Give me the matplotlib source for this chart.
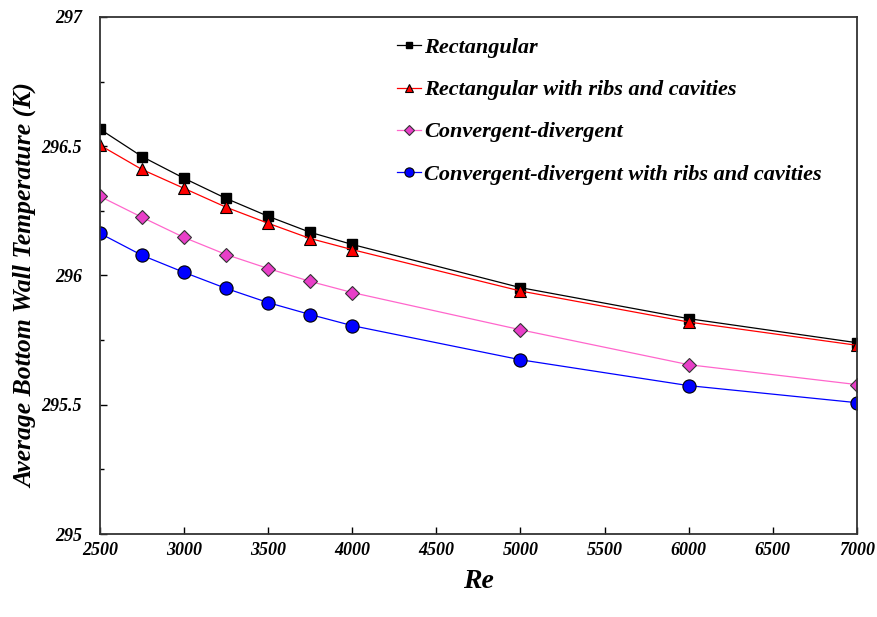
import matplotlib.pyplot as plt
from matplotlib.ticker import MultipleLocator

# Data
re_vals = [2500, 2750, 3000, 3250, 3500, 3750, 4000, 5000, 6000, 7000]
rect = [296.566, 296.46, 296.376, 296.298, 296.229, 296.167, 296.12, 295.953, 295.833, 295.74]
rect_ribs = [296.504, 296.41, 296.337, 296.264, 296.202, 296.143, 296.10, 295.94, 295.82, 295.73]
conv_div = [296.306, 296.225, 296.147, 296.081, 296.027, 295.977, 295.934, 295.79, 295.655, 295.578]
conv_div_ribs = [296.163, 296.078, 296.012, 295.95, 295.895, 295.849, 295.806, 295.674, 295.574, 295.508]

labels = ["Rectangular", "Rectangular with ribs and cavities",
          "Convergent-divergent", "Convergent-divergent with ribs and cavities"]

plt.rcParams['font.family'] = 'Liberation Serif'
plt.rcParams['font.weight'] = 'bold'
plt.rcParams['font.style'] = 'italic'

fig = plt.figure(figsize=(8.77, 6.17), dpi=100)
ax = fig.add_axes([0.114, 0.1345, 0.863, 0.838])

ax.plot(re_vals, rect, color='black', lw=0.9, marker='s', ms=6.5,
        mfc='black', mec='black', label=labels[0])
ax.plot(re_vals, rect_ribs, color='red', lw=0.9, marker='^', ms=8,
        mfc='red', mec='black', mew=0.8, label=labels[1])
ax.plot(re_vals, conv_div, color='#ff66cc', lw=0.9, marker='D', ms=7,
        mfc='#e83fc8', mec='#333333', mew=0.8, label=labels[2])
ax.plot(re_vals, conv_div_ribs, color='blue', lw=0.9, marker='o', ms=9.5,
        mfc='blue', mec='black', mew=0.8, label=labels[3])

ax.set_xlim(2500, 7000)
ax.set_ylim(295, 297)
ax.xaxis.set_major_locator(MultipleLocator(500))
ax.yaxis.set_minor_locator(MultipleLocator(0.25))
ax.set_yticks([295, 295.5, 296, 296.5, 297])
ax.set_yticklabels(["295", "295.5", "296", "296.5", "297"])

ax.tick_params(axis='both', which='major', direction='in', length=5, width=1,
               labelsize=13)
ax.tick_params(axis='x', which='major', pad=6)
ax.tick_params(axis='y', which='major', pad=13)
ax.tick_params(axis='y', which='minor', direction='in', length=3, width=1)
for s in ax.spines.values():
    s.set_linewidth(1.3)
    s.set_color('#333333')

ax.set_xlabel("Re", fontsize=20, fontweight='bold', labelpad=7)
ax.set_ylabel("Average Bottom Wall Temperature (K)", fontsize=18.5,
              fontweight='bold')
ax.yaxis.set_label_coords(-0.083, 0.48)

ax.legend(loc='upper left', bbox_to_anchor=(0.392, 0.96), frameon=False,
          prop={'size': 16, 'weight': 'bold', 'style': 'italic'},
          handlelength=1.1, handletextpad=0.15, labelspacing=0.97,
          markerscale=0.7, borderpad=0, borderaxespad=0)

plt.savefig("out.png", dpi=100)
